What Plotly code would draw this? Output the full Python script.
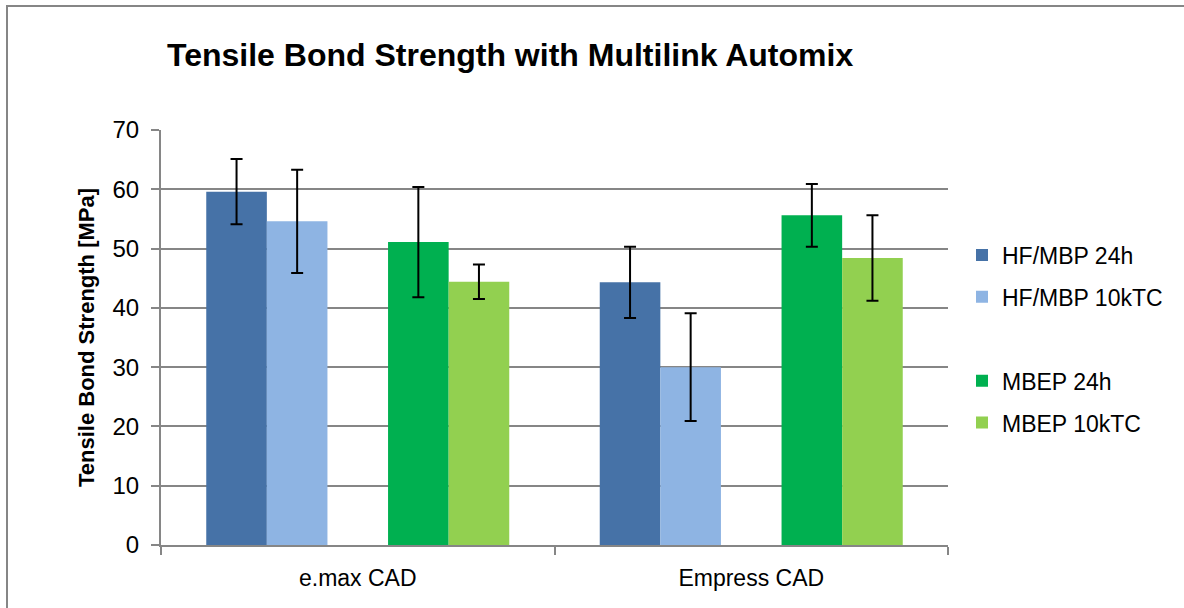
import plotly.graph_objects as go

categories = ["e.max CAD", "Empress CAD"]
series_names = ["HF/MBP 24h", "HF/MBP 10kTC", " ", "MBEP 24h", "MBEP 10kTC"]
hf24_vals = [59.6, 44.3]
hf24_err = [5.5, 6.0]
hf10k_vals = [54.6, 30.0]
hf10k_err = [8.7, 9.1]
spacer_vals = [0, 0]
mbep24_vals = [51.1, 55.6]
mbep24_err = [9.3, 5.3]
mbep10k_vals = [44.4, 48.4]
mbep10k_err = [2.9, 7.2]
colors = ["#4672A7", "#8EB4E3", "rgba(0,0,0,0)", "#00B050", "#92D050"]
y_ticks = [0, 10, 20, 30, 40, 50, 60, 70]

W, H = 1184, 608
L, R, T, B = 161, 1184 - 948, 130, 608 - 545
pw, ph = W - L - R, H - T - B

def px_x(x):
    return (x - L) / pw

def px_y(y):
    return (H - B - y) / ph

fig = go.Figure()
vals = [hf24_vals, hf10k_vals, spacer_vals, mbep24_vals, mbep10k_vals]
errs = [hf24_err, hf10k_err, None, mbep24_err, mbep10k_err]
for i, (name, v, e, c) in enumerate(zip(series_names, vals, errs, colors)):
    kw = {}
    if e is not None:
        kw["error_y"] = dict(type="data", array=e, visible=True, color="black",
                             thickness=2, width=6)
    fig.add_trace(go.Bar(
        x=categories, y=v, name=name, marker=dict(color=c, line=dict(width=0)),
        legendgroup=f"g{i}", **kw))

axis_gray = "#868686"
fig.update_layout(
    width=W, height=H,
    margin=dict(l=L, r=R, t=T, b=B),
    paper_bgcolor="white", plot_bgcolor="white",
    barmode="group", bargap=0.23, bargroupgap=0,
    font=dict(family="Liberation Sans, Arial, sans-serif", color="black"),
    title=dict(text="<b>Tensile Bond Strength with Multilink Automix</b>",
               x=px_x(167), xref="paper", xanchor="left",
               y=1 - 55 / H, yref="container", yanchor="middle",
               font=dict(size=32, color="black")),
    legend=dict(x=px_x(962), xanchor="left", y=px_y(339), yanchor="middle",
                font=dict(size=23), tracegroupgap=9, traceorder="grouped",
                bgcolor="rgba(0,0,0,0)"),
    xaxis=dict(showline=True, linecolor=axis_gray, linewidth=2,
               ticks="outside", tickson="boundaries", ticklen=8,
               tickcolor=axis_gray, tickwidth=2,
               tickfont=dict(size=23), ticklabelstandoff=11,
               showgrid=False),
    yaxis=dict(range=[0, 70], tickvals=y_ticks, showline=True,
               linecolor=axis_gray, linewidth=2,
               ticks="outside", ticklen=8, tickcolor=axis_gray, tickwidth=2,
               tickfont=dict(size=24), ticklabelstandoff=7,
               showgrid=True, gridcolor=axis_gray, gridwidth=1.5,
               zeroline=False,
               title=dict(text="<b>Tensile Bond Strength [MPa]</b>",
                          font=dict(size=22), standoff=12)),
    showlegend=True,
)

fig.add_shape(type="rect", xref="paper", yref="paper",
              x0=px_x(7), x1=px_x(1195), y0=px_y(620), y1=px_y(6),
              line=dict(color=axis_gray, width=2), fillcolor="rgba(0,0,0,0)",
              layer="below")

fig.write_html("out.html", config={"displayModeBar": False},
               post_script="document.body.style.margin='0';document.body.style.overflow='hidden';")
